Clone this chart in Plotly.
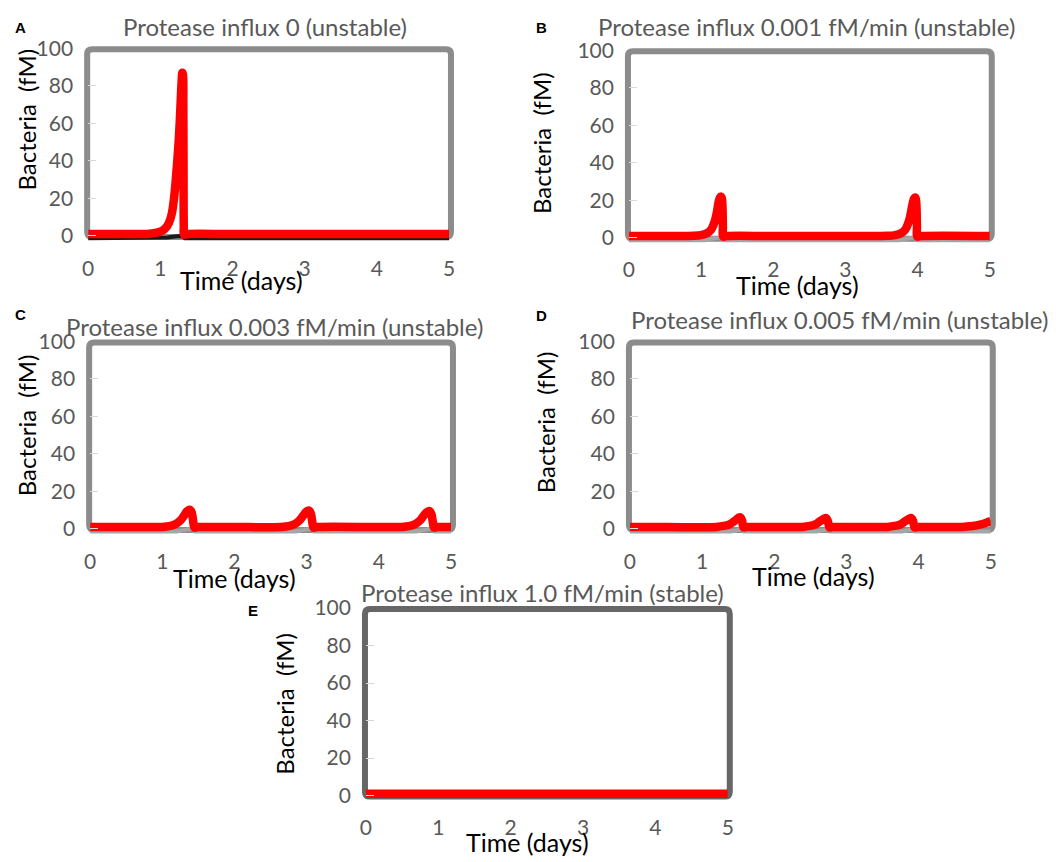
import plotly.graph_objects as go

W, H = 1056, 862
OFF = 8  # page margin of the browser: shift everything so the photo lines up

# ---------------- data ----------------
panel_letters = ["A", "B", "C", "D", "E"]
panel_titles = [
    "Protease influx 0 (unstable)",
    "Protease influx 0.001 fM/min (unstable)",
    "Protease influx 0.003 fM/min (unstable)",
    "Protease influx 0.005 fM/min (unstable)",
    "Protease influx 1.0 fM/min (stable)",
]
x_ticks = [0, 1, 2, 3, 4, 5]
y_ticks = [0, 20, 40, 60, 80, 100]
x_title = "Time (days)"
y_title = "Bacteria  (fM)"

# Panel A
time_A = [0, 0.5, 0.85, 0.95, 1.03, 1.08, 1.12, 1.16, 1.19, 1.21, 1.235, 1.26, 1.28, 1.295, 1.305,
          1.314, 1.319, 1.322, 1.325, 1.33, 1.38, 2, 3, 4, 5]
bact_A = [1, 1, 1.2, 1.7, 2.8, 4.5, 7, 12, 20, 28, 40, 54, 70, 82, 87,
          86, 70, 35, 5, 0.7, 1, 1, 1, 1, 1]
ptime_A = [0, 1.0, 1.1, 1.2, 1.28, 1.32, 1.34, 5]
prot_A = [-1.3, -1.3, -0.8, -0.3, 0, -0.5, -1.3, -1.3]

# Panel B
time_B = [0, 0.5, 0.9, 1.0, 1.08, 1.14, 1.19, 1.22, 1.245, 1.262, 1.275, 1.288, 1.296, 1.302, 1.307, 1.36, 2, 3,
          3.59, 3.69, 3.77, 3.83, 3.88, 3.91, 3.935, 3.952, 3.965, 3.977, 3.985, 3.991, 3.996, 4.05, 5]
bact_B = [1, 1, 1.1, 1.5, 2.5, 4.5, 9, 14, 19.5, 21.5, 22, 21, 17, 6, 0.7, 1, 1, 1,
          1.1, 1.5, 2.5, 4.5, 9, 14, 19, 21, 21.5, 20.5, 16, 6, 0.7, 1, 1]
ptime_B = [0, 1.05, 1.15, 1.25, 1.29, 1.31, 3.74, 3.84, 3.94, 3.98, 4.0, 5]
prot_B = [-1.3, -1.3, -0.5, 0.5, 0.5, -1.3, -1.3, -0.5, 0.5, 0.5, -1.3, -1.3]

# Panel C
time_C = [0, 0.5, 1.0, 1.1, 1.18, 1.25, 1.3, 1.34, 1.37, 1.39, 1.41, 1.425, 1.435, 1.445, 1.5, 2,
          2.65, 2.75, 2.83, 2.9, 2.95, 2.99, 3.02, 3.04, 3.06, 3.075, 3.085, 3.095, 3.15, 4,
          4.32, 4.42, 4.5, 4.57, 4.62, 4.66, 4.69, 4.71, 4.73, 4.745, 4.755, 4.765, 4.82, 5]
bact_C = [1, 1, 1.1, 1.5, 2.5, 4.5, 7, 9.3, 10.2, 10, 8.5, 5, 2, 0.7, 1, 1,
          1.1, 1.5, 2.5, 4.5, 7, 9, 9.8, 9.6, 8, 4.5, 2, 0.7, 1, 1,
          1.1, 1.5, 2.5, 4.5, 7, 8.8, 9.5, 9.3, 7.8, 4.5, 2, 0.7, 1, 1]
ptime_C = [0, 1.2, 1.32, 1.42, 1.45, 2.85, 2.97, 3.07, 3.1, 4.52, 4.64, 4.74, 4.77, 5]
prot_C = [-1.3, -1.3, -0.5, 0.3, -1.3, -1.3, -0.5, 0.3, -1.3, -1.3, -0.5, 0.3, -1.3, -1.3]

# Panel D
time_D = [0, 0.5, 1.2, 1.3, 1.38, 1.44, 1.49, 1.515, 1.535, 1.553, 1.565, 1.575, 1.62,
          2.39, 2.49, 2.57, 2.63, 2.68, 2.705, 2.725, 2.743, 2.755, 2.765, 2.81,
          3.57, 3.67, 3.75, 3.81, 3.86, 3.885, 3.905, 3.923, 3.935, 3.945, 3.99,
          4.6, 4.75, 4.85, 4.93, 5.0]
bact_D = [1, 1, 1.1, 1.6, 2.5, 4, 5.5, 6.2, 6, 4.5, 2, 0.8, 1,
          1.1, 1.6, 2.5, 4, 5.2, 5.8, 5.6, 4.2, 2, 0.8, 1,
          1.1, 1.6, 2.5, 4, 5.2, 5.8, 5.6, 4.2, 2, 0.8, 1,
          1.1, 1.6, 2.3, 3.2, 4.2]
ptime_D = [0, 1.4, 1.5, 1.56, 1.58, 2.59, 2.69, 2.75, 2.77, 3.77, 3.87, 3.93, 3.95, 5]
prot_D = [-1.3, -1.3, -0.6, 0.2, -1.3, -1.3, -0.6, 0.2, -1.3, -1.3, -0.6, 0.2, -1.3, -1.3]

# Panel E
time_E = [0, 1, 2, 3, 4, 5]
bact_E = [1, 1, 1, 1, 1, 1]

bact_series = [(time_A, bact_A), (time_B, bact_B), (time_C, bact_C), (time_D, bact_D), (time_E, bact_E)]
prot_series = [(ptime_A, prot_A, "#1a1a1a"), (ptime_B, prot_B, "#a6a6a6"),
               (ptime_C, prot_C, "#a6a6a6"), (ptime_D, prot_D, "#a6a6a6"), None]

# ---------------- layout (pixel geometry of the reference) ----------------
# (pixel of x=0, pixel of x=5, pixel of y=100, pixel of y=0)
geom = [
    (83, 448, 35, 227),
    (630, 995, 37, 229),
    (85, 450, 335, 527),
    (631, 996, 335, 527),
    (364, 730, 608, 800),
]
frame_colors = ["#8c8c8c", "#8c8c8c", "#8c8c8c", "#8c8c8c", "#666666"]
title_pos = [(262, 13), (810, 13), (271, 320), (843, 313), (543, 592)]
letter_pos = [(15, 14), (542, 14), (15, 307), (542, 308), (250, 610)]
xtitle_pos = [(238, 272), (800, 277), (231, 577), (817, 575), (527, 847)]
ytitle_pos = [(21, 108), (541, 132), (21, 421), (546, 418), (282, 706)]

YMIN = -3

fig = go.Figure()
layout = dict(
    width=W, height=H, margin=dict(l=0, r=0, t=0, b=0),
    paper_bgcolor="white", plot_bgcolor="rgba(0,0,0,0)",
    showlegend=False, shapes=[], annotations=[],
    font=dict(family="Lato", color="#595959"),
)


def px(x):
    return (x - OFF) / W


def py(y):
    return 1 - (y - OFF) / H


def rounded_rect(xl, yt, xr, yb, r):
    # pixel coordinates -> paper path with rounded corners
    rx, ry = r / W, r / H
    L, R, T, B = px(xl), px(xr), py(yt), py(yb)
    return (f"M {L + rx},{T} L {R - rx},{T} Q {R},{T} {R},{T - ry} "
            f"L {R},{B + ry} Q {R},{B} {R - rx},{B} "
            f"L {L + rx},{B} Q {L},{B} {L},{B + ry} "
            f"L {L},{T - ry} Q {L},{T} {L + rx},{T} Z")


for i in range(5):
    x0, x5, y100, y0 = geom[i]
    scale = (y0 - y100) / 100.0
    ybot = y0 - YMIN * scale
    sfx = "" if i == 0 else str(i + 1)
    layout["xaxis" + sfx] = dict(
        domain=[px(x0), px(x5)], range=[0, 5], anchor="y" + sfx,
        tickvals=x_ticks, showgrid=False, zeroline=False, showline=False,
        ticks="", tickfont=dict(size=21, color="#595959", family="Lato"),
        ticklabelstandoff=12,
    )
    layout["yaxis" + sfx] = dict(
        domain=[py(ybot), py(y100)], range=[YMIN, 100], anchor="x" + sfx,
        tickvals=y_ticks, showgrid=False, zeroline=False, showline=False,
        ticks="inside", ticklen=8, tickcolor="#d9d9d9", tickwidth=1,
        tickfont=dict(size=21, color="#595959", family="Lato"),
        ticklabelstandoff=14,
    )
    layout["shapes"].append(dict(
        type="path", xref="paper", yref="paper",
        path=rounded_rect(x0 - 1, y100 + 1, x5 + 2, y0 + 1, 5),
        line=dict(color=frame_colors[i], width=6), fillcolor="rgba(0,0,0,0)",
        layer="below",
    ))
    if prot_series[i] is not None:
        pt, pv, pc = prot_series[i]
        fig.add_trace(go.Scatter(x=pt, y=pv, mode="lines", xaxis="x" + sfx, yaxis="y" + sfx,
                                 line=dict(color=pc, width=4), hoverinfo="skip"))
    bt, bv = bact_series[i]
    fig.add_trace(go.Scatter(x=bt, y=bv, mode="lines", xaxis="x" + sfx, yaxis="y" + sfx,
                             line=dict(color="#ff0000", width=8.5, shape="spline", smoothing=1.0),
                             hoverinfo="skip"))
    tx, ty = title_pos[i]
    layout["annotations"].append(dict(
        text=panel_titles[i], x=px(tx), y=py(ty), xref="paper", yref="paper",
        showarrow=False, xanchor="center", yanchor="middle",
        font=dict(size=24, color="#595959", family="Lato")))
    lx, ly = letter_pos[i]
    layout["annotations"].append(dict(
        text="<b>" + panel_letters[i] + "</b>", x=px(lx), y=py(ly), xref="paper", yref="paper",
        showarrow=False, xanchor="center", yanchor="middle",
        font=dict(size=15, color="black", family="Liberation Sans")))
    ax_x, ax_y = xtitle_pos[i]
    layout["annotations"].append(dict(
        text=x_title, x=px(ax_x), y=py(ax_y), xref="paper", yref="paper",
        showarrow=False, xanchor="center", yanchor="middle",
        font=dict(size=25, color="black", family="Lato")))
    yx, yy = ytitle_pos[i]
    layout["annotations"].append(dict(
        text=y_title, x=px(yx), y=py(yy), xref="paper", yref="paper",
        showarrow=False, xanchor="center", yanchor="middle", textangle=-90,
        font=dict(size=24, color="black", family="Lato")))

fig.update_layout(**layout)
fig.write_html("out.html")
